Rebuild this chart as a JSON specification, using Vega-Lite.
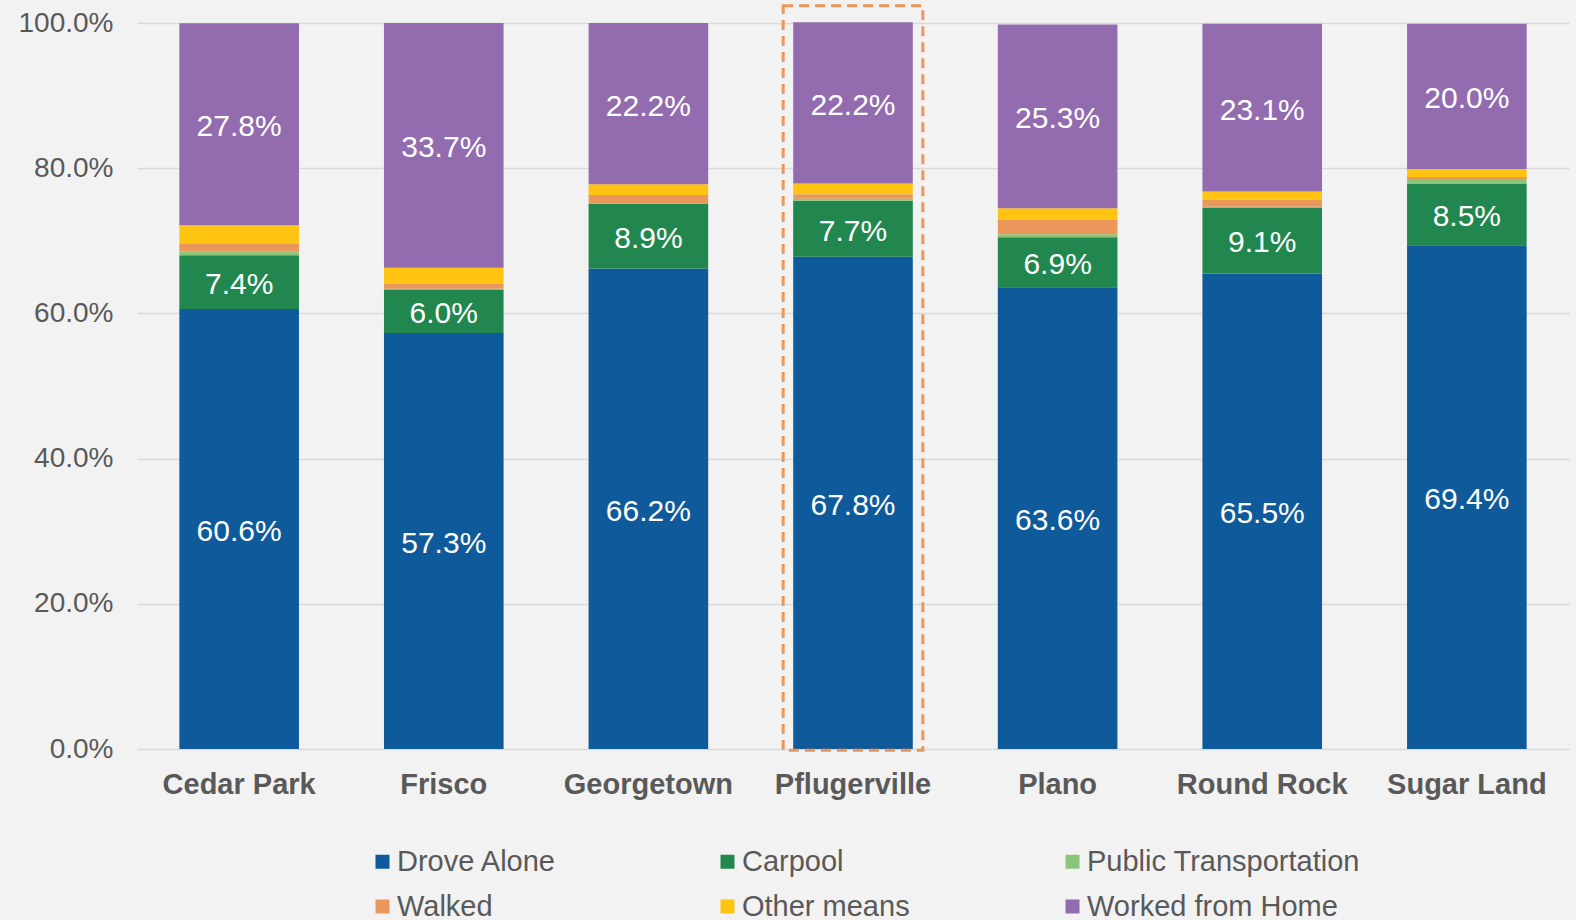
{
  "$schema": "https://vega.github.io/schema/vega-lite/v6.json",
  "width": 1432,
  "height": 726,
  "autosize": "none",
  "padding": {"left": 137, "top": 23, "right": 7, "bottom": 171},
  "background": "#f2f2f2",
  "config": {"view": {"stroke": null}, "font": "Liberation Sans"},
  "datasets": {
    "commute": [
      {"city": "Cedar Park", "mode": "Drove Alone", "value": 0.606},
      {"city": "Cedar Park", "mode": "Carpool", "value": 0.074},
      {"city": "Cedar Park", "mode": "Public Transportation", "value": 0.0055},
      {"city": "Cedar Park", "mode": "Walked", "value": 0.011},
      {"city": "Cedar Park", "mode": "Other means", "value": 0.025},
      {"city": "Cedar Park", "mode": "Worked from Home", "value": 0.278},
      {"city": "Frisco", "mode": "Drove Alone", "value": 0.573},
      {"city": "Frisco", "mode": "Carpool", "value": 0.060},
      {"city": "Frisco", "mode": "Public Transportation", "value": 0.001},
      {"city": "Frisco", "mode": "Walked", "value": 0.007},
      {"city": "Frisco", "mode": "Other means", "value": 0.022},
      {"city": "Frisco", "mode": "Worked from Home", "value": 0.337},
      {"city": "Georgetown", "mode": "Drove Alone", "value": 0.662},
      {"city": "Georgetown", "mode": "Carpool", "value": 0.089},
      {"city": "Georgetown", "mode": "Public Transportation", "value": 0.001},
      {"city": "Georgetown", "mode": "Walked", "value": 0.011},
      {"city": "Georgetown", "mode": "Other means", "value": 0.015},
      {"city": "Georgetown", "mode": "Worked from Home", "value": 0.222},
      {"city": "Pflugerville", "mode": "Drove Alone", "value": 0.678},
      {"city": "Pflugerville", "mode": "Carpool", "value": 0.077},
      {"city": "Pflugerville", "mode": "Public Transportation", "value": 0.003},
      {"city": "Pflugerville", "mode": "Walked", "value": 0.006},
      {"city": "Pflugerville", "mode": "Other means", "value": 0.015},
      {"city": "Pflugerville", "mode": "Worked from Home", "value": 0.222},
      {"city": "Plano", "mode": "Drove Alone", "value": 0.636},
      {"city": "Plano", "mode": "Carpool", "value": 0.069},
      {"city": "Plano", "mode": "Public Transportation", "value": 0.004},
      {"city": "Plano", "mode": "Walked", "value": 0.020},
      {"city": "Plano", "mode": "Other means", "value": 0.016},
      {"city": "Plano", "mode": "Worked from Home", "value": 0.253},
      {"city": "Round Rock", "mode": "Drove Alone", "value": 0.655},
      {"city": "Round Rock", "mode": "Carpool", "value": 0.091},
      {"city": "Round Rock", "mode": "Public Transportation", "value": 0.001},
      {"city": "Round Rock", "mode": "Walked", "value": 0.010},
      {"city": "Round Rock", "mode": "Other means", "value": 0.011},
      {"city": "Round Rock", "mode": "Worked from Home", "value": 0.231},
      {"city": "Sugar Land", "mode": "Drove Alone", "value": 0.694},
      {"city": "Sugar Land", "mode": "Carpool", "value": 0.085},
      {"city": "Sugar Land", "mode": "Public Transportation", "value": 0.006},
      {"city": "Sugar Land", "mode": "Walked", "value": 0.003},
      {"city": "Sugar Land", "mode": "Other means", "value": 0.011},
      {"city": "Sugar Land", "mode": "Worked from Home", "value": 0.200}
    ],
    "highlight": [{"city": "Pflugerville"}]
  },
  "layer": [
    {
      "data": {"name": "commute"},
      "transform": [
        {"calculate": "indexof(['Drove Alone','Carpool','Public Transportation','Walked','Other means','Worked from Home'], datum.mode)", "as": "ord"},
        {"stack": "value", "groupby": ["city"], "sort": [{"field": "ord", "order": "ascending"}], "as": ["y0", "y1"]}
      ],
      "mark": {"type": "bar"},
      "encoding": {
        "x": {
          "field": "city", "type": "nominal",
          "scale": {"domain": ["Cedar Park", "Frisco", "Georgetown", "Pflugerville", "Plano", "Round Rock", "Sugar Land"], "paddingInner": 0.4155, "paddingOuter": 0.207},
          "axis": {"title": null, "labelAngle": 0, "labelFontSize": 29, "labelFontWeight": "bold", "labelColor": "#595959", "labelPadding": 21, "ticks": false, "domain": false}
        },
        "y": {
          "field": "y0", "type": "quantitative",
          "scale": {"domain": [0, 1]},
          "axis": {"title": null, "values": [0, 0.2, 0.4, 0.6, 0.8, 1], "format": ".1%", "labelFontSize": 28, "labelColor": "#595959", "labelPadding": 24, "ticks": false, "domain": false, "gridColor": "#d9d9d9", "gridWidth": 1.5}
        },
        "y2": {"field": "y1"},
        "color": {
          "field": "mode", "type": "nominal",
          "scale": {
            "domain": ["Drove Alone", "Carpool", "Public Transportation", "Walked", "Other means", "Worked from Home"],
            "range": ["#0E5A9A", "#22874F", "#8CC47A", "#E9975A", "#FFC312", "#936CAF"]
          },
          "legend": {
            "title": null, "orient": "none", "legendX": 231, "legendY": 824,
            "direction": "horizontal",
            "columns": 3, "gridAlign": "all", "columnPadding": 43, "rowPadding": 15,
            "symbolType": "square", "symbolSize": 196, "symbolStrokeWidth": 0,
            "labelFontSize": 29, "labelColor": "#595959", "labelLimit": 400, "labelOffset": 0
          }
        }
      }
    },
    {
      "data": {"name": "commute"},
      "transform": [
        {"calculate": "indexof(['Drove Alone','Carpool','Public Transportation','Walked','Other means','Worked from Home'], datum.mode)", "as": "ord"},
        {"stack": "value", "groupby": ["city"], "sort": [{"field": "ord", "order": "ascending"}], "as": ["y0", "y1"]},
        {"calculate": "(datum.y0 + datum.y1) / 2", "as": "ymid"},
        {"filter": "datum.mode === 'Drove Alone' || datum.mode === 'Carpool' || datum.mode === 'Worked from Home'"}
      ],
      "mark": {"type": "text", "color": "white", "fontSize": 30, "baseline": "middle", "align": "center", "dy": 3},
      "encoding": {
        "x": {"field": "city", "type": "nominal"},
        "y": {"field": "ymid", "type": "quantitative"},
        "text": {"field": "value", "type": "quantitative", "format": ".1%"}
      }
    },
    {
      "data": {"name": "highlight"},
      "mark": {"type": "bar", "filled": false, "stroke": "#E9975A", "strokeWidth": 3, "strokeDash": [10, 6], "width": {"band": 1.168}, "clip": false},
      "encoding": {
        "x": {"field": "city", "type": "nominal"},
        "y": {"datum": -0.0017},
        "y2": {"datum": 1.0236}
      }
    }
  ]
}
